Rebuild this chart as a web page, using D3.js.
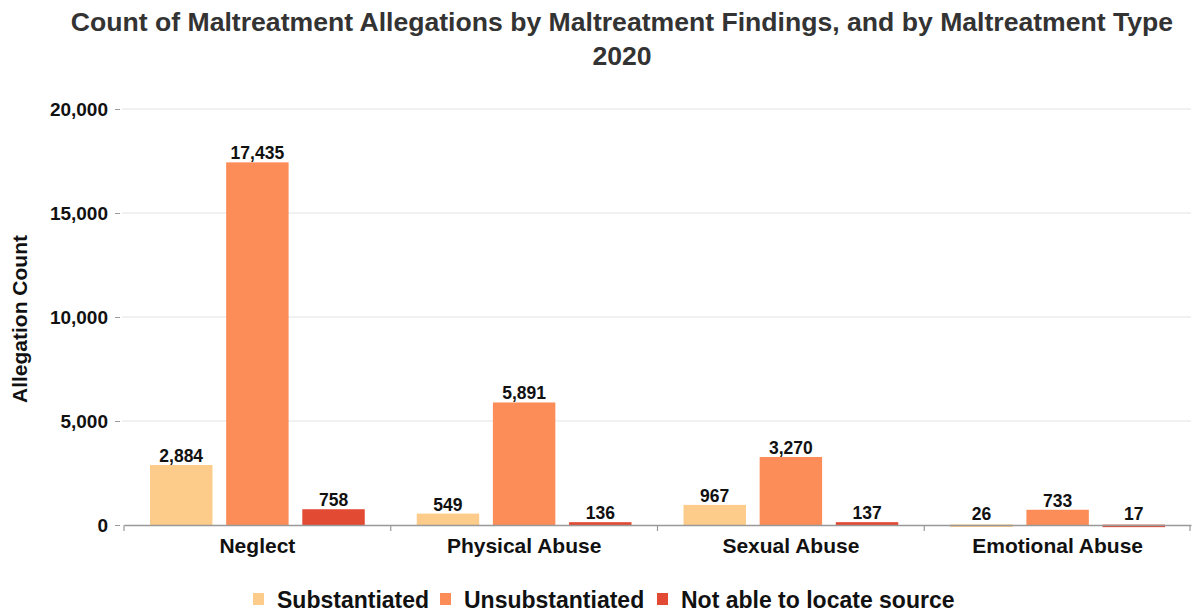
<!DOCTYPE html>
<html><head><meta charset="utf-8">
<script src="https://cdn.jsdelivr.net/npm/d3@7"></script>
<style>body{margin:0;background:#fff;font-family:"Liberation Sans",Arial,sans-serif;}</style>
</head><body><svg id="c" width="1193" height="613"></svg>
<script>
const categories = ["Neglect", "Physical Abuse", "Sexual Abuse", "Emotional Abuse"];
const seriesNames = ["Substantiated", "Unsubstantiated", "Not able to locate source"];
const substantiated = [2884, 549, 967, 26];
const unsubstantiated = [17435, 5891, 3270, 733];
const notLocated = [758, 136, 137, 17];
const yTicks = [0, 5000, 10000, 15000, 20000];
const colors = ["#fdcc8a", "#fc8d59", "#e34a33"];
const titleLines = ["Count of Maltreatment Allegations by Maltreatment Findings, and by Maltreatment Type", "2020"];

const seriesVals = [substantiated, unsubstantiated, notLocated];
const svg = d3.select("#c");
const mLeft = 124, mRight = 1191, mTop = 109, mBottom = 525;
const FF = "Liberation Sans, Arial, sans-serif";

const x = d3.scaleBand().domain(categories).range([mLeft, mRight]).padding(0);
const xi = d3.scaleBand().domain(seriesNames).range([26, x.bandwidth() - 26]).paddingInner(0.18).paddingOuter(0);
const y = d3.scaleLinear().domain([0, 20000]).range([mBottom, mTop]);

// title
svg.append("g").selectAll("text").data(titleLines).join("text")
  .attr("x", 622).attr("y", (d, i) => 31 + i * 34)
  .attr("text-anchor", "middle").attr("fill", "#333")
  .attr("font-size", 26.6).attr("font-weight", "bold").text(d => d);

// grid
svg.append("g").selectAll("line").data(yTicks.slice(1)).join("line")
  .attr("x1", mLeft - 2).attr("x2", mRight).attr("y1", d => y(d)).attr("y2", d => y(d))
  .attr("stroke", "#e3e3e3").attr("stroke-width", 1);

// y axis
const ya = svg.append("g").attr("transform", `translate(${mLeft - 4},0)`)
  .call(d3.axisLeft(y).tickValues(yTicks).tickFormat(d3.format(",")).tickSize(5).tickPadding(7));
ya.select(".domain").remove();
ya.selectAll(".tick line").attr("stroke", "#999");
ya.selectAll(".tick text").attr("font-size", 19).attr("font-weight", "bold").attr("fill", "#111")
  .attr("font-family", FF);

svg.append("text").attr("transform", `translate(27,319) rotate(-90)`)
  .attr("text-anchor", "middle").attr("font-size", 21).attr("font-weight", "bold").attr("fill", "#111")
  .text("Allegation Count");

// bars
const data = [];
categories.forEach((c, i) => seriesNames.forEach((s, j) => data.push({ c, s, j, v: seriesVals[j][i] })));
svg.append("g").selectAll("rect").data(data).join("rect")
  .attr("x", d => x(d.c) + xi(d.s)).attr("width", xi.bandwidth())
  .attr("y", d => y(d.v)).attr("height", d => Math.max(2.5, mBottom - y(d.v)))
  .attr("fill", d => colors[d.j]);
svg.append("g").selectAll("text").data(data).join("text")
  .attr("x", d => x(d.c) + xi(d.s) + xi.bandwidth() / 2)
  .attr("y", d => Math.min(y(d.v), mBottom - 2.5) - 3)
  .attr("text-anchor", "middle").attr("font-size", 17.5).attr("font-weight", "bold").attr("fill", "#111")
  .text(d => d3.format(",")(d.v));

// x axis
const xa = svg.append("g").attr("transform", `translate(0,${mBottom})`)
  .call(d3.axisBottom(x).tickSize(0));
xa.select(".domain").attr("stroke", "#999").attr("stroke-width", 1.5);
xa.selectAll(".tick text").attr("font-size", 21).attr("font-weight", "bold").attr("fill", "#111")
  .attr("font-family", FF).attr("dy", null).attr("y", 28);
svg.append("g").selectAll("line").data(categories.map(c => x(c)).concat([mRight - 1])).join("line")
  .attr("x1", d => d).attr("x2", d => d).attr("y1", mBottom).attr("y2", mBottom + 6)
  .attr("stroke", "#999").attr("stroke-width", 1.2);

// legend
const legX = [253, 440, 657];
const lg = svg.append("g").selectAll("g").data(seriesNames).join("g")
  .attr("transform", (d, i) => `translate(${legX[i]},0)`);
lg.append("rect").attr("x", 0).attr("y", 593).attr("width", 11).attr("height", 12).attr("fill", (d, i) => colors[i]);
lg.append("text").attr("x", 24).attr("y", 608).attr("font-size", 23).attr("font-weight", "bold").attr("fill", "#111")
  .text(d => d);
</script></body></html>
